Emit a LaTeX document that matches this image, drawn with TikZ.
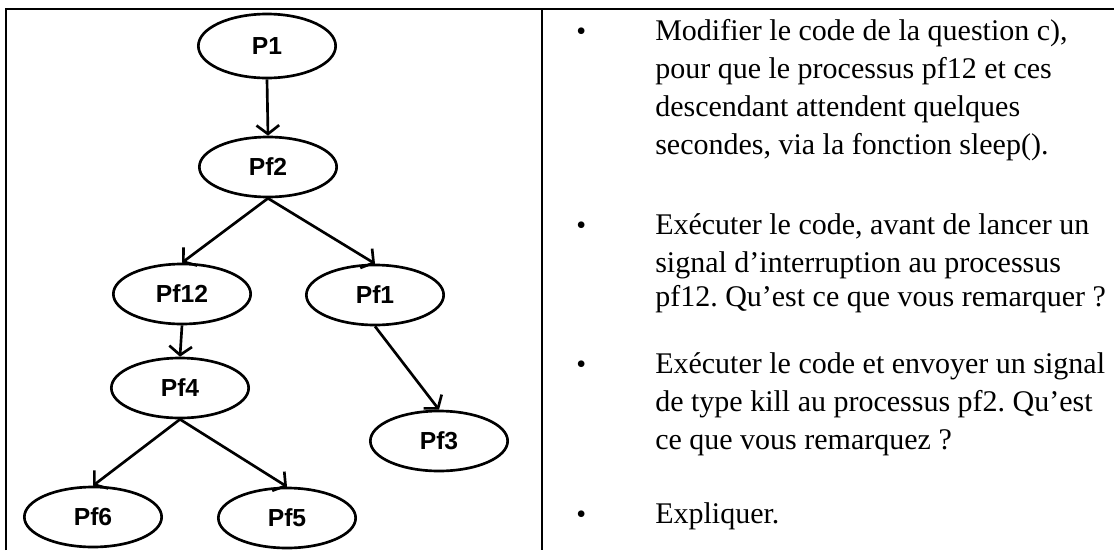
\documentclass[tikz,border=0pt]{standalone}
\usepackage{fontspec}
\setmainfont{Liberation Serif}
\newfontfamily\labelfont{Liberation Sans}
\usetikzlibrary{shapes.geometric,arrows.meta}
\frenchspacing
\begin{document}
\begin{tikzpicture}[x=0.75pt,y=-0.75pt,
  proc/.style={draw, ellipse, line width=2pt, minimum width=103pt,
    minimum height=45pt, inner sep=0pt,
    font=\labelfont\bfseries\fontsize{18.5}{18.5}\selectfont},
  link/.style={line width=2pt, -{Straight Barb[length=6.5pt,width=17pt]}},
  rule/.style={line width=1.8pt},
  txt/.style={anchor=base west, inner sep=0pt,
    font=\fontsize{22.5}{27}\selectfont},
  dot/.style={anchor=base west, inner sep=0pt,
    font=\fontsize{21}{24}\selectfont},
]
\useasboundingbox (0,0) rectangle (1114,550);

% table frame
\coordinate (tl) at (6,9);
\coordinate (bl) at (6,550);
\coordinate (tr) at (1114,9);
\coordinate (mt) at (542,9);
\coordinate (mb) at (542,550);
\draw[rule] (bl) -- (tl) -- (tr);
\draw[rule] (mt) -- (mb);

% process tree
\node[proc, minimum height=48pt] (p1) at (267,46) {P1};
\node[proc] (pf2)  at (268,167) {Pf2};
\node[proc] (pf12) at (182,294) {Pf12};
\node[proc] (pf1)  at (375,295) {Pf1};
\node[proc] (pf4)  at (180,388) {Pf4};
\node[proc] (pf3)  at (439,441) {Pf3};
\node[proc] (pf6)  at (93,517)  {Pf6};
\node[proc] (pf5)  at (287,518) {Pf5};

\draw[link] (p1.south)   -- (pf2.north);
\draw[link] (pf2.south)  -- (pf12.north);
\draw[link] (pf2.south)  -- (pf1.north);
\draw[link] (pf12.south) -- (pf4.north);
\draw[link] (pf1.south)  -- (pf3.north);
\draw[link] (pf4.south)  -- (pf6.north);
\draw[link] (pf4.south)  -- (pf5.north);

% questions
\node[dot] (b1) at (576,40) {•};
\node[txt] (l11) at (655,40)  {Modifier le code de la question c),};
\node[txt] (l12) at (655,78)  {pour que le processus pf12 et ces};
\node[txt] (l13) at (655,116) {descendant attendent quelques};
\node[txt] (l14) at (655,154) {secondes, via la fonction sleep().};

\node[dot] (b2) at (576,234) {•};
\node[txt] (l21) at (655,234) {Exécuter le code, avant de lancer un};
\node[txt] (l22) at (655,272) {signal d’interruption au processus};
\node[txt] (l23) at (655,306) {pf12. Qu’est ce que vous remarquer ?};

\node[dot] (b3) at (576,373) {•};
\node[txt] (l31) at (655,373) {Exécuter le code et envoyer un signal};
\node[txt] (l32) at (655,411) {de type kill au processus pf2. Qu’est};
\node[txt] (l33) at (655,449) {ce que vous remarquez ?};

\node[dot] (b4) at (576,523) {•};
\node[txt] (l41) at (655,523) {Expliquer.};
\end{tikzpicture}
\end{document}
